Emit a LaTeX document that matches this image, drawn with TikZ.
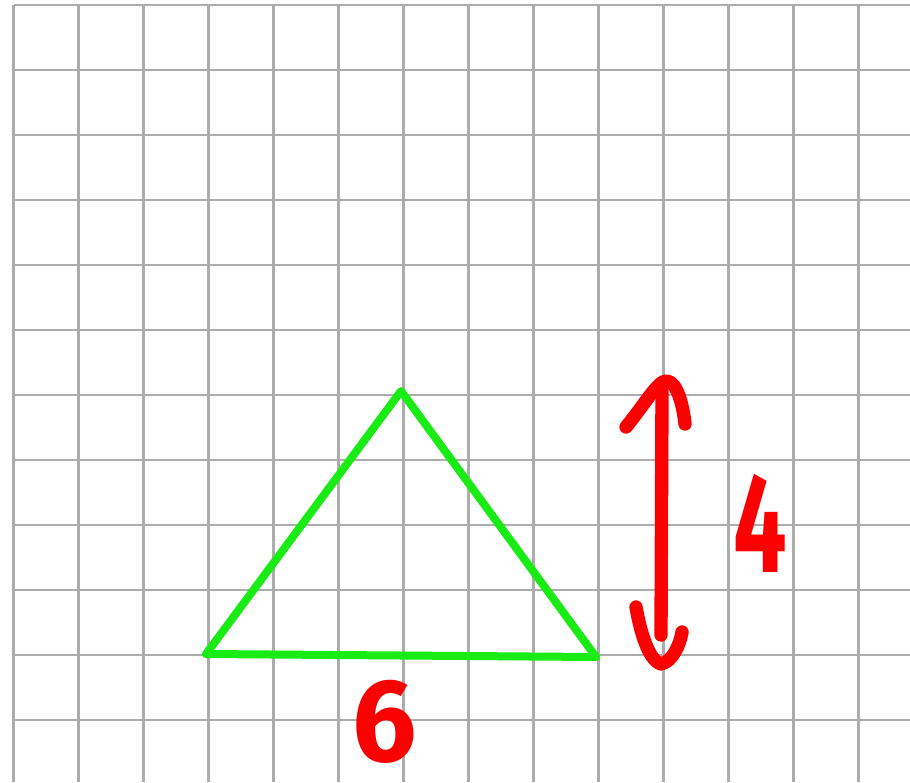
\documentclass[tikz,border=0pt]{standalone}
\usepackage{fontspec}
\setmainfont{Fira Sans}
\definecolor{gridgray}{RGB}{172,172,172}
\definecolor{trigreen}{RGB}{25,235,20}
\definecolor{penred}{RGB}{250,0,0}
\begin{document}
\begin{tikzpicture}[x=0.75pt,y=-0.75pt,
  gridline/.style={draw=gridgray,line width=2.2pt},
  triline/.style={draw=trigreen,line width=6pt,line join=round,line cap=round},
  penline/.style={draw=penred,line width=10pt,line cap=round,line join=round},
  pentext/.style={text=penred,inner sep=0pt,font=\fontsize{95}{95}\selectfont\bfseries}]
\useasboundingbox (0,0) rectangle (910,782);
\fill[white] (0,0) rectangle (910,782);
% grid
\foreach \i in {0,...,13} \draw[gridline] (13.5+65*\i,5) -- (13.5+65*\i,782);
\foreach \j in {0,...,11} \draw[gridline] (13.5,5+65*\j) -- (910,5+65*\j);
% triangle
\coordinate (A) at (206,654);
\coordinate (B) at (596,657);
\coordinate (C) at (401,391);
\draw[triline] (A) -- (B) -- (C) -- cycle;
% arrow
\coordinate (top) at (662,392);
\coordinate (bot) at (661,635);
\coordinate (tl) at (626,427);
\coordinate (tapex) at (667,381);
\coordinate (tr) at (685,424);
\coordinate (bl) at (636,607);
\coordinate (bapex) at (661,664);
\coordinate (br) at (682,632);
\draw[penline] (top) -- (bot);
\draw[penline] (tl) .. controls (645,404) and (658,380) .. (tapex) .. controls (677,382) and (683,405) .. (tr);
\draw[penline] (bl) .. controls (640,630) and (648,660) .. (bapex) .. controls (672,662) and (680,645) .. (br);
% labels
\node[pentext,xscale=0.75,yscale=1.12] (four) at (760,523) {4};
\node[pentext,xscale=0.9,yscale=0.93] (six) at (385,722) {6};
\end{tikzpicture}
\end{document}
